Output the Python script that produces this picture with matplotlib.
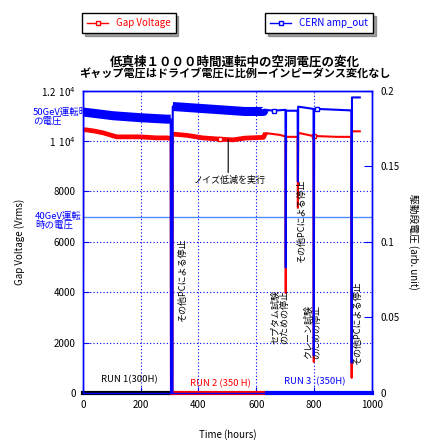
import numpy as np
import matplotlib
matplotlib.use("Agg")
import matplotlib.pyplot as plt
from matplotlib.lines import Line2D

plt.rcParams["font.family"] = ["Noto Sans CJK JP", "DejaVu Sans"]

# Gap Voltage (Vrms) vs time (hours)
gap_hours = [0, 1, 10, 40, 70, 117, 197, 256, 294, 304, 305, 310, 311, 360, 415, 474, 520,
             560, 625, 632, 680, 701, 702, 703, 743, 744, 745, 798, 799, 800, 810, 878,
             929, 930, 931, 958]
gap_volts = [0, 10450, 10450, 10400, 10330, 10170, 10170, 10130, 10130, 10100, 0, 0, 10280,
             10230, 10130, 10080, 10050, 10120, 10150, 10320, 10250, 10190, 3970, 10170,
             10170, 7350, 10330, 10200, 1230, 10200, 10200, 10170, 10170, 600, 10390, 10390]

# CERN amp_out (arb. unit) vs time (hours)
amp_hours = [0, 1, 7, 104, 197, 290, 304, 305, 310, 311, 394, 508, 560, 625, 627, 660, 700,
             701, 702, 703, 743, 744, 745, 798, 799, 800, 810, 929, 930, 931, 958]
amp_out = [0, 0.1858, 0.1858, 0.1835, 0.1822, 0.1812, 0.1812, 0, 0, 0.1896, 0.1885, 0.187,
           0.1863, 0.1863, 0.1875, 0.1868, 0.1874, 0.1874, 0.083, 0.1868, 0.1868, 0.14,
           0.1895, 0.188, 0.025, 0.188, 0.188, 0.187, 0.02, 0.1956, 0.1956]

run_labels = ["RUN 1(300H)", "RUN 2 (350 H)", "RUN 3 :(350H)"]
run_label_pos = [(161, 520), (476, 360), (803, 450)]
run_colors = ["black", "red", "blue"]
run_spans = [(0, 308), (308, 637), (637, 1000)]

stop_notes = ["その他PCによる停止", "セプタム試験\nのための停止", "その他PCによる停止",
              "クレーン試験\nのための停止", "その他PCによる停止"]
stop_note_pos = [(346, 4490), (684, 3000), (757, 6800), (795, 2430), (951, 2760)]

left_ticks = [0, 2000, 4000, 6000, 8000, 10000, 12000]
left_tick_labels = ["0", "2000", "4000", "6000", "8000", "1  10$^{4}$", "1.2  10$^{4}$"]
right_ticks = [0, 0.05, 0.1, 0.15, 0.2]
right_tick_labels = ["0", "0.05", "0.1", "0.15", "0.2"]
x_ticks = [0, 200, 400, 600, 800, 1000]

BLUE = "#0000ff"
RED = "#ff0000"

fig = plt.figure(figsize=(4.27, 4.45), dpi=100)
ax = fig.add_axes([0.194, 0.117, 0.677, 0.679])
ax2 = ax.twinx()

gh = np.array(gap_hours, dtype=float)
gv = np.array(gap_volts, dtype=float)
ah = np.array(amp_hours, dtype=float)
av = np.array(amp_out, dtype=float)

# red series (left axis)
ax.plot(gh, gv, color=RED, lw=1.5, zorder=3)
band_g = np.where((gh < 640) & (gv > 9500), gv, np.nan)
ax.plot(gh, band_g, color=RED, lw=3.4, solid_capstyle="butt", zorder=3)
ax.plot(gh, gv, color=RED, lw=0, marker="s", ms=3, mfc="white", mec=RED,
        markevery=[15, 29], zorder=3)

# blue series (right axis)
ax2.plot(ah, av, color=BLUE, lw=1.5, zorder=3)
band_a = np.where((ah < 640) & (av > 0.17), av, np.nan)
ax2.plot(ah, band_a, color=BLUE, lw=6.5, solid_capstyle="butt", zorder=3)
ax2.plot(ah, av, color=BLUE, lw=0, marker="s", ms=3, mfc="white", mec=BLUE,
         markevery=[15, 26], zorder=3)

ax.set_xlim(0, 1000)
ax.set_ylim(0, 12000)
ax2.set_ylim(0, 0.2)

ax.set_xticks(x_ticks)
ax.set_yticks(left_ticks)
ax.set_yticklabels(left_tick_labels)
ax2.set_yticks(right_ticks)
ax2.set_yticklabels(right_tick_labels)

ax.grid(True, color=BLUE, linestyle=(0, (1, 2)), lw=0.8)
ax.axhline(7000, color="#4d8cff", lw=1, zorder=2)

for a in (ax, ax2):
    for s in a.spines.values():
        s.set_color(BLUE)
        s.set_linewidth(1)
ax.tick_params(direction="in", length=4, color=BLUE, labelsize=7, pad=5)
ax2.tick_params(direction="in", length=6, color=BLUE, labelsize=7, pad=6)

# run period bars along the bottom
for (x0, x1), c in zip(run_spans, run_colors):
    ax.plot([x0, x1], [0, 0], color=c, lw=3, clip_on=False, zorder=4)

for txt, (x, y), c in zip(run_labels, run_label_pos, run_colors):
    ax.text(x, y, txt, color=c, fontsize=6.8, ha="center", va="center", zorder=5)

for txt, (x, y) in zip(stop_notes, stop_note_pos):
    ax.text(x, y, txt, rotation=90, fontsize=6.5, ha="center", va="center",
            linespacing=1.0, zorder=5)

ax.annotate("ノイズ低減を実行", xy=(503, 10050), xytext=(509, 8460), fontsize=6.5,
            ha="center", va="center",
            arrowprops=dict(arrowstyle="-", color="black", lw=0.8, relpos=(0.475, 1.0),
                            shrinkA=0, shrinkB=0))

ax.set_xlabel("Time (hours)", fontsize=7, labelpad=14)
ax.set_ylabel("Gap Voltage (Vrms)", fontsize=7, labelpad=12)
ax2.set_ylabel("駆動段電圧 (arb. unit)", fontsize=7, rotation=270, labelpad=14)

fig.text(0.55, 0.861, "低真棟１０００時間運転中の空洞電圧の変化", fontsize=9,
         fontweight="bold", ha="center", va="center")
fig.text(0.55, 0.834, "ギャップ電圧はドライブ電圧に比例ーインピーダンス変化なし", fontsize=8,
         fontweight="bold", ha="center", va="center")

fig.text(0.077, 0.737, "50GeV運転時\nの電圧", color=BLUE, fontsize=6.8, ha="left",
         va="center", linespacing=1.0, zorder=-1)
fig.text(0.082, 0.503, "40GeV運転\n時の電圧", color=BLUE, fontsize=6.8, ha="left",
         va="center", linespacing=1.0)

h1 = Line2D([], [], color=RED, lw=1, marker="s", ms=3, mfc="white", mec=RED)
h2 = Line2D([], [], color=BLUE, lw=1, marker="s", ms=3, mfc="white", mec=BLUE)
for h, lab, xy in [(h1, "Gap Voltage", (0.302, 0.948)), (h2, "CERN amp_out", (0.747, 0.948))]:
    fig.legend([h], [lab], loc="center", bbox_to_anchor=xy, fontsize=7, frameon=True,
               fancybox=False, shadow=True, edgecolor="black", framealpha=1,
               labelcolor="linecolor", handlelength=2.2, borderpad=0.5)

fig.savefig("out.png", dpi=100)
